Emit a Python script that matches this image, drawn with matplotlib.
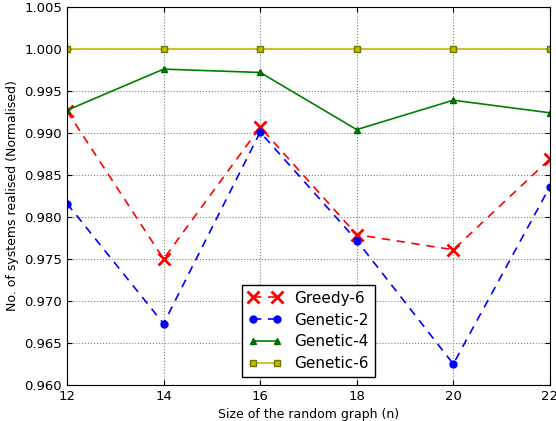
import numpy as np
import matplotlib.pyplot as plt

# graph sizes and normalised counts
sizes = [12, 14, 16, 18, 20, 22]
greedy_6 = [0.9926, 0.9750, 0.9907, 0.9779, 0.9761, 0.9869]
genetic_2 = [0.9816, 0.9673, 0.9901, 0.9772, 0.9625, 0.9836]
genetic_4 = [0.9927, 0.9976, 0.9972, 0.9904, 0.9939, 0.9924]
genetic_6 = [1.0000, 1.0000, 1.0000, 1.0000, 1.0000, 1.0000]

y_ticks = [0.960, 0.965, 0.970, 0.975, 0.980, 0.985, 0.990, 0.995, 1.000, 1.005]

fig = plt.figure(figsize=(5.56, 4.21), dpi=100)
ax = fig.add_axes([0.1205, 0.0855, 0.8685, 0.898])

ax.plot(sizes, greedy_6, color='red', linestyle='--', dashes=(5, 4), lw=1.2,
        marker='x', ms=9, mew=2, label='Greedy-6')
ax.plot(sizes, genetic_2, color='blue', linestyle='--', dashes=(5, 4), lw=1.2,
        marker='o', ms=5, mec='blue', label='Genetic-2')
ax.plot(sizes, genetic_4, color='green', linestyle='-', lw=1.2,
        marker='^', ms=5, mec='darkgreen', label='Genetic-4')
ax.plot(sizes, genetic_6, color=(0.75, 0.75, 0), linestyle='-', lw=1.2,
        marker='s', ms=5, mec=(0.45, 0.45, 0), label='Genetic-6')

ax.set_xlim(12, 22)
ax.set_ylim(0.960, 1.005)
ax.set_yticks(y_ticks)
ax.set_yticklabels(['%.3f' % t for t in y_ticks])
ax.tick_params(direction='in', top=True, right=True, labelsize=9.5)
ax.grid(True, linestyle=':', color='gray', lw=0.8)
ax.set_xlabel('Size of the random graph (n)', fontsize=9)
ax.set_ylabel('No. of systems realised (Normalised)', fontsize=9)

leg = ax.legend(loc='lower center', numpoints=2, fontsize=11, fancybox=False,
                framealpha=1, edgecolor='black', handlelength=2.2,
                borderaxespad=0.5, labelspacing=0.45)
leg.get_frame().set_linewidth(1)

fig.savefig('out.png', dpi=100)
